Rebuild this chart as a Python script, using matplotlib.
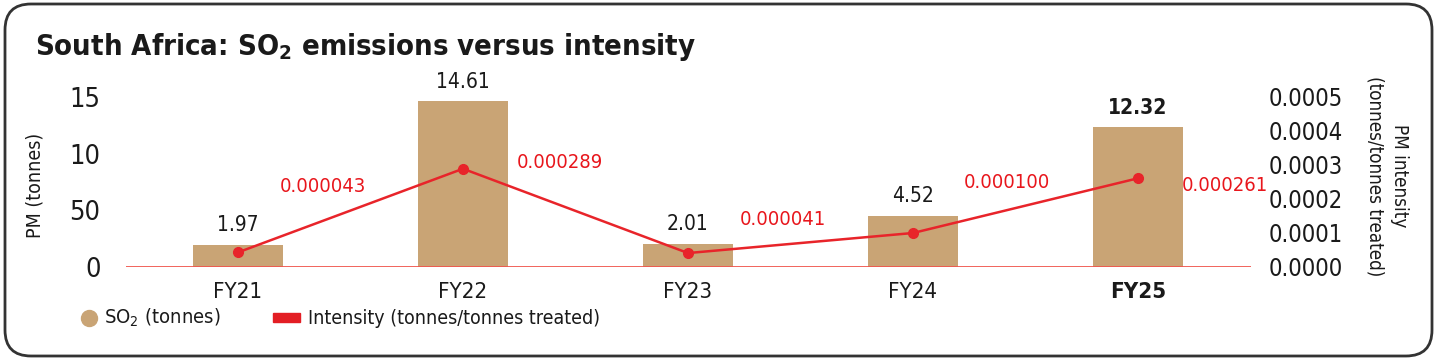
import matplotlib
matplotlib.use("Agg")
import matplotlib.pyplot as plt
from matplotlib.patches import FancyBboxPatch, Rectangle
from matplotlib.lines import Line2D
from matplotlib.transforms import IdentityTransform

plt.rcParams['font.family'] = ['DejaVu Sans']
plt.rcParams['font.stretch'] = 'condensed'
plt.rcParams['mathtext.fontset'] = 'dejavusans'
plt.rcParams['mathtext.default'] = 'regular'

categories = ["FY21", "FY22", "FY23", "FY24", "FY25"]
so2_tonnes = [1.97, 14.61, 2.01, 4.52, 12.32]
intensity = [0.000043, 0.000289, 0.000041, 0.000100, 0.000261]
intensity_labels = ["0.000043", "0.000289", "0.000041", "0.000100", "0.000261"]
left_ticks = [0, 5, 10, 15]
left_tick_labels = ["0", "50", "10", "15"]
right_ticks = [0.0, 0.0001, 0.0002, 0.0003, 0.0004, 0.0005]
right_tick_labels = ["0.0000", "0.0001", "0.0002", "0.0003", "0.0004", "0.0005"]

# style: label offsets in pixels (dx, dy)
label_offsets = [(85, 66), (97, 6), (95, 34), (94, 50), (87, -7)]

W, H = 1437, 359
fig = plt.figure(figsize=(W / 100, H / 100), dpi=100)

TAN = '#C9A475'
RED = '#E8242A'
TXT = '#1a1a1a'

frame = FancyBboxPatch((5, 3), W - 10, H - 7,
                       boxstyle="round,pad=0,rounding_size=26",
                       transform=IdentityTransform(), fill=False,
                       edgecolor='#333333', linewidth=2)
fig.add_artist(frame)

fig.text(35 / W, 1 - 47 / H, "South Africa: SO$_{2}$ emissions versus intensity",
         fontsize=21, fontweight='bold', color=TXT, ha='left', va='center')

left, right = 125.5 / W, 1250.5 / W
bottom, top = (H - 267) / H, (H - 97) / H
ax = fig.add_axes([left, bottom, right - left, top - bottom])
ax2 = ax.twinx()

x = list(range(len(categories)))
ax.bar(x, so2_tonnes, width=0.4, color=TAN, zorder=2)
ax.set_xlim(-0.5, len(categories) - 0.5)
ax.set_ylim(0, 15)
ax.axhline(0, color='#F0554D', lw=2, zorder=3)

for i, v in enumerate(so2_tonnes):
    ax.annotate(f"{v:.2f}", (i, v), xytext=(0, 7), textcoords='offset points',
                ha='center', va='bottom', fontsize=15, color=TXT,
                fontweight='bold' if i == len(so2_tonnes) - 1 else 'normal',
                annotation_clip=False)

ax.set_yticks(left_ticks)
ax.set_yticklabels(left_tick_labels)
ax.tick_params(axis='y', length=0, pad=18, labelsize=19.5, labelcolor=TXT)
ax.set_xticks(x)
ax.set_xticklabels(categories)
ax.tick_params(axis='x', length=0, pad=11, labelsize=16, labelcolor=TXT)
ax.get_xticklabels()[-1].set_fontweight('bold')
ax.set_ylabel("PM (tonnes)", fontsize=14, color=TXT)
ax.yaxis.set_label_coords(-0.0724, 0.48)

ax2.plot(x, intensity, color=RED, lw=1.8, marker='o', markersize=7, zorder=4)
ax2.set_ylim(0, 0.0005)
ax2.set_yticks(right_ticks)
ax2.set_yticklabels(right_tick_labels)
ax2.tick_params(axis='y', length=0, pad=13, labelsize=17, labelcolor=TXT)
ax2.set_ylabel("PM intensity\n(tonnes/tonnes treated)", fontsize=13.5, color=TXT,
               rotation=270, va='center', ha='center', linespacing=1.35)
ax2.yaxis.set_label_coords(1.1213, 0.535)

for i, (v, lab) in enumerate(zip(intensity, intensity_labels)):
    dx, dy = label_offsets[i]
    ax2.annotate(lab, (i, v), xytext=(dx, dy), textcoords='offset pixels',
                 ha='center', va='center', fontsize=14.5, color='#E8161C',
                 annotation_clip=False)

for a in (ax, ax2):
    for s in a.spines.values():
        s.set_visible(False)
ax.patch.set_visible(False)

fig.add_artist(Line2D([89 / W], [1 - 318 / H], marker='o', markersize=11.5,
                      color=TAN, linestyle='none', transform=fig.transFigure))
fig.text(104 / W, 1 - 318 / H, "SO$_{2}$ (tonnes)", fontsize=14.5, color=TXT,
         ha='left', va='center')
fig.add_artist(Rectangle((273 / W, 1 - 322 / H), 27 / W, 9 / H, color='#E31E24',
                         transform=fig.transFigure))
fig.text(308 / W, 1 - 318 / H, "Intensity (tonnes/tonnes treated)", fontsize=14,
         color=TXT, ha='left', va='center')

fig.savefig("out.png", dpi=100)
